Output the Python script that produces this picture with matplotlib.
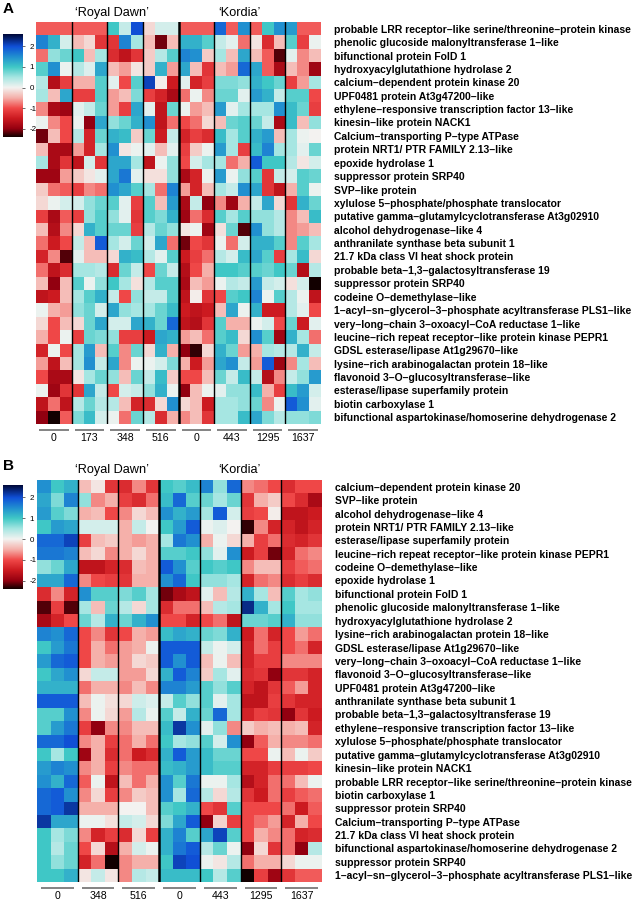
import numpy as np
import matplotlib
matplotlib.use("Agg")
import matplotlib.pyplot as plt
from matplotlib.colors import LinearSegmentedColormap, Normalize
from matplotlib.transforms import blended_transform_factory

plt.rcParams['font.family'] = ['Liberation Sans', 'DejaVu Sans']

# ---------------- data ----------------
genes_A = [
    "probable LRR receptor–like serine/threonine–protein kinase",
    "phenolic glucoside malonyltransferase 1–like",
    "bifunctional protein FolD 1",
    "hydroxyacylglutathione hydrolase 2",
    "calcium–dependent protein kinase 20",
    "UPF0481 protein At3g47200–like",
    "ethylene–responsive transcription factor 13–like",
    "kinesin–like protein NACK1",
    "Calcium–transporting P–type ATPase",
    "protein NRT1/ PTR FAMILY 2.13–like",
    "epoxide hydrolase 1",
    "suppressor protein SRP40",
    "SVP–like protein",
    "xylulose 5–phosphate/phosphate translocator",
    "putative gamma–glutamylcyclotransferase At3g02910",
    "alcohol dehydrogenase–like 4",
    "anthranilate synthase beta subunit 1",
    "21.7 kDa class VI heat shock protein",
    "probable beta–1,3–galactosyltransferase 19",
    "suppressor protein SRP40",
    "codeine O–demethylase–like",
    "1–acyl–sn–glycerol–3–phosphate acyltransferase PLS1–like",
    "very–long–chain 3–oxoacyl–CoA reductase 1–like",
    "leucine–rich repeat receptor–like protein kinase PEPR1",
    "GDSL esterase/lipase At1g29670–like",
    "lysine–rich arabinogalactan protein 18–like",
    "flavonoid 3–O–glucosyltransferase–like",
    "esterase/lipase superfamily protein",
    "biotin carboxylase 1",
    "bifunctional aspartokinase/homoserine dehydrogenase 2",
]
groups_A = ["0", "173", "348", "516", "0", "443", "1295", "1637"]

values_A = [
    [-0.9,-0.9,-0.9, -0.9,-0.9,-0.9, 1.0,0.3,2.0, -0.2,0.2,0.2, -0.9,-0.9,-0.9, 1.8,-0.9,1.5, -0.9,1.0,1.5, 1.4,-0.9,-0.9],
    [1.6,1.2,0.2, -0.4,-0.2,-1.2, -1.2,1.6,0.5, -0.4,-2.1,-0.4, 1.2,1.2,0.9, 0.3,0.1,-0.8, -0.1,-1.3,-0.4, 0.9,-1.1,0.05],
    [-0.8,0.6,0.8, 1.0,-0.4,0.5, -1.3,-1.6,-1.2, -0.3,0.4,0.9, 1.6,1.5,-0.3, 0.5,-0.4,1.3, -0.4,-0.9,-2.2, 0.1,-0.7,-0.4],
    [0.9,1.5,0.05, 0.4,0.15,1.3, -0.4,-0.6,-0.1, -0.3,1.2,-0.6, 1.3,-0.4,-1.2, -0.4,-0.6,1.8, 1.3,-0.9,-1.8, -0.4,-0.7,-1.9],
    [0.4,-1.7,-1.1, -0.5,-0.5,0.9, 0.1,-1.0,0.9, 2.1,-0.05,-1.5, 0.1,-1.4,-1.1, 0.7,0.7,0.6, 1.2,1.0,0.8, -1.1,-0.6,0.5],
    [0.5,-0.4,1.3, -1.1,-1.1,0.9, -0.6,-0.4,0.7, -1.1,-1.4,-1.8, -0.8,0.05,-0.7, 0.8,0.8,0.1, 1.4,1.2,0.3, 0.9,0.9,-1.0],
    [-0.7,-1.8,-1.9, 0.1,0.3,0.8, -0.6,-1.1,1.3, 0.1,-1.6,0.8, 0.05,-0.6,-0.4, 1.4,0.1,0.5, 0.5,0.5,1.5, 1.1,0.8,-1.1],
    [0.05,-0.7,-1.0, 0.05,-2.0,1.3, 0.6,0.8,1.2, 1.5,-1.6,-0.8, -1.0,-0.8,-0.2, -0.4,0.8,0.9, 0.8,0.3,-1.8, 1.1,-0.4,0.6],
    [-2.1,-0.4,-1.0, 0.4,-1.4,0.8, 1.2,1.1,-0.3, 0.8,-1.5,0.3, -1.4,-1.1,-1.3, 1.1,0.5,0.9, 1.2,1.4,-0.4, 0.5,0.05,0.0],
    [-0.4,-1.8,-1.8, -0.6,-1.4,0.5, 1.5,-0.1,0.05, 0.1,-0.4,0.1, -1.1,-0.3,0.05, 1.4,0.5,-1.1, 1.1,1.6,0.5, 0.5,0.1,0.8],
    [0.5,-1.8,-1.2, -1.6,0.2,-1.2, 1.3,1.3,0.5, -1.6,0.05,0.6, -1.0,0.2,0.5, 0.5,-0.8,-0.5, 1.9,1.0,1.0, 0.4,-0.1,0.2],
    [-1.9,-1.9,-0.6, -0.3,-0.1,0.1, 1.3,1.7,0.1, -0.15,-0.15,0.6, -1.8,-1.4,0.05, 1.4,0.05,0.6, 0.9,-1.2,0.3, 0.2,0.9,0.8],
    [-0.3,-0.8,-0.9, -1.1,-0.7,-0.8, 1.5,1.3,0.9, 0.5,-0.8,1.6, -0.6,-1.4,-0.4, 0.5,0.3,1.5, 1.3,-1.2,-1.6, -0.5,0.9,0.05],
    [-0.2,0.05,0.2, 0.2,0.6,0.8, 0.9,0.1,-1.1, 0.9,-0.4,1.4, -1.8,0.3,-2.0, -0.7,-1.9,-0.5, 0.3,1.3,-0.2, -1.2,1.2,0.8],
    [-1.1,-1.8,-0.9, -1.1,0.6,0.9, 0.6,0.1,-1.2, 0.9,0.7,1.2, -1.9,-0.8,-1.3, 0.9,0.5,0.9, 0.6,0.6,0.4, -0.7,-0.4,1.1],
    [-0.4,-1.7,-0.7, -0.2,1.2,0.9, 0.8,0.8,-1.1, 0.4,0.8,0.6, -0.1,0.05,-1.9, -0.15,0.8,-2.2, 1.5,0.6,0.4, -0.7,-0.6,-0.4],
    [-0.8,-1.5,-1.0, 0.3,-0.4,1.9, 0.5,0.2,0.8, 0.2,1.3,-0.8, -2.1,-1.0,-1.2, 0.05,-0.8,0.2, 1.2,1.2,0.9, -0.7,0.9,0.5],
    [-1.4,-0.7,-2.2, 0.1,-0.4,-0.4, -0.2,1.2,1.1, 0.4,0.1,0.9, -1.5,-1.1,-0.8, 0.4,0.2,1.1, 1.3,0.9,-1.1, 0.5,1.1,-0.2],
    [-0.8,-1.6,-1.3, 0.5,0.5,0.4, -1.3,0.8,0.3, -1.0,0.8,0.3, -1.7,-1.0,-0.5, 1.0,1.0,0.9, 0.9,0.8,1.0, 0.8,-1.7,0.4],
    [-0.4,-2.0,-0.4, 0.9,0.05,0.6, 1.0,0.5,-0.15, 0.4,0.9,0.9, -1.8,-0.4,-0.6, 0.05,0.4,0.3, 1.4,0.3,0.2, -0.15,0.2,-2.5],
    [-1.6,-1.5,-0.4, 0.5,0.9,1.2, 0.3,-1.0,0.6, 0.3,0.3,0.9, -1.6,-0.05,-1.2, -1.0,0.9,1.0, 1.6,0.05,0.9, 0.4,0.05,-1.6],
    [0.05,-0.5,-0.6, 0.6,0.8,0.2, 1.3,0.6,0.5, 0.5,0.8,1.1, -1.5,-1.6,-1.5, -0.4,1.3,0.05, 1.2,-1.5,-1.5, 0.4,0.1,-1.0],
    [-0.2,-1.0,-0.4, -0.2,0.8,1.3, 0.2,0.2,1.3, 1.2,0.8,1.8, -1.6,-1.7,-1.2, 0.9,-0.5,-0.5, 0.05,0.2,-1.0, 0.8,-1.5,0.1],
    [-0.5,-1.0,0.05, -1.1,0.8,0.7, 0.6,-1.1,-1.1, -1.5,1.3,1.2, -0.6,-0.4,-0.8, 0.9,1.1,-0.2, 1.5,0.9,-1.9, 1.2,0.5,-0.8],
    [-1.4,0.05,-1.0, 0.5,1.4,-0.4, 0.9,-0.7,0.8, -0.2,1.2,-0.5, -2.0,-2.3,-0.2, 1.2,0.8,-0.6, -0.5,0.5,0.4, 0.4,1.2,0.3],
    [-0.6,-1.6,-0.4, 0.5,1.5,0.3, 1.3,-0.7,0.05, 0.05,0.2,0.7, -0.5,-1.5,-0.6, 1.3,1.5,0.3, -0.6,1.9,-1.9, -0.7,0.5,-0.4],
    [-1.0,-1.8,-1.8, -0.1,0.5,0.8, 0.6,-0.4,0.8, 0.3,1.1,-0.3, -1.0,-1.0,-0.4, 0.8,0.3,1.1, 0.3,-1.7,-0.7, 0.3,0.6,1.4],
    [0.05,-1.9,-1.2, -1.2,1.3,0.3, -1.0,0.2,0.3, 0.6,1.2,0.05, -2.0,-0.4,0.05, 0.1,0.6,0.6, 1.1,-0.5,-1.1, 1.1,1.4,0.2],
    [-1.6,-0.8,-1.6, 0.4,0.8,0.4, 0.4,-0.4,-1.4, -1.3,-0.2,1.5, -0.2,-0.4,-1.5, 0.5,0.5,0.6, 0.8,-0.7,0.05, 1.9,1.5,0.1],
    [-2.0,-2.4,-0.9, 0.7,1.1,0.2, 0.05,-0.8,0.8, 0.4,-1.3,-0.5, -0.7,-0.4,-1.2, 0.5,0.5,1.1, 1.3,0.7,0.4, 0.6,0.6,0.7],
]

genes_B = [
    "calcium–dependent protein kinase 20",
    "SVP–like protein",
    "alcohol dehydrogenase–like 4",
    "protein NRT1/ PTR FAMILY 2.13–like",
    "esterase/lipase superfamily protein",
    "leucine–rich repeat receptor–like protein kinase PEPR1",
    "codeine O–demethylase–like",
    "epoxide hydrolase 1",
    "bifunctional protein FolD 1",
    "phenolic glucoside malonyltransferase 1–like",
    "hydroxyacylglutathione hydrolase 2",
    "lysine–rich arabinogalactan protein 18–like",
    "GDSL esterase/lipase At1g29670–like",
    "very–long–chain 3–oxoacyl–CoA reductase 1–like",
    "flavonoid 3–O–glucosyltransferase–like",
    "UPF0481 protein At3g47200–like",
    "anthranilate synthase beta subunit 1",
    "probable beta–1,3–galactosyltransferase 19",
    "ethylene–responsive transcription factor 13–like",
    "xylulose 5–phosphate/phosphate translocator",
    "putative gamma–glutamylcyclotransferase At3g02910",
    "kinesin–like protein NACK1",
    "probable LRR receptor–like serine/threonine–protein kinase",
    "biotin carboxylase 1",
    "suppressor protein SRP40",
    "Calcium–transporting P–type ATPase",
    "21.7 kDa class VI heat shock protein",
    "bifunctional aspartokinase/homoserine dehydrogenase 2",
    "suppressor protein SRP40",
    "1–acyl–sn–glycerol–3–phosphate acyltransferase PLS1–like",
]
groups_B = ["0", "348", "516", "0", "443", "1295", "1637"]

values_B = [
    [1.5,1.0,1.2, -0.4,-0.1,-1.2, -1.3,-0.7,-1.2, 1.0,0.9,1.1, 1.6,0.6,1.8, -0.7,-0.8,-1.0, -1.3,-1.0,-1.0],
    [1.3,0.7,1.6, 0.6,-0.7,-0.5, -1.1,-1.3,-0.8, 1.1,1.8,0.9, 0.8,0.5,0.8, -1.2,-0.5,-0.3, -1.0,-1.3,-1.8],
    [1.4,0.9,0.7, -0.5,-0.4,-1.0, -0.7,-0.2,-0.4, 1.5,1.2,1.4, 0.5,1.9,0.2, -1.1,-1.0,-0.05, -1.6,-1.6,-1.5],
    [1.0,1.4,1.3, 0.2,0.2,0.2, -0.5,0.3,0.0, 1.0,1.4,1.9, 0.05,0.15,0.0, -2.3,-0.7,-1.4, -1.4,-1.6,-1.4],
    [1.8,1.8,2.1, -1.1,-0.4,-0.3, -0.5,-0.6,-0.5, 0.5,1.7,1.5, -0.5,0.05,-0.2, -0.5,-1.1,-0.8, -1.3,-1.4,-1.2],
    [1.7,1.7,1.6, -0.4,-0.2,-0.7, -0.5,-0.2,-0.5, 0.9,0.9,1.0, 0.6,0.1,1.5, -1.5,-1.1,-2.1, -1.4,-0.8,-0.7],
    [0.6,0.8,1.3, -1.6,-1.6,-1.4, -1.3,-0.4,-0.5, 1.9,1.5,0.9, 1.0,0.9,1.0, -0.7,-0.4,-0.4, -1.1,-0.9,-0.8],
    [1.3,1.3,1.8, -0.7,-1.0,-1.1, -1.2,-0.5,-0.5, 1.5,1.8,1.0, 0.6,0.6,0.5, -1.4,-0.8,-0.7, -1.3,-1.1,-1.3],
    [-1.3,-0.7,-1.4, 1.5,0.9,0.9, 0.7,0.9,0.5, -2.1,-1.8,-1.6, 0.1,-0.4,0.4, 1.2,0.5,-0.4, 0.9,0.5,0.6],
    [-2.2,-1.1,-2.2, 0.5,-0.4,0.8, 0.4,-0.2,0.5, -1.3,-0.8,-0.8, -0.4,0.4,0.5, 2.3,1.2,0.5, 1.0,0.5,0.5],
    [-1.8,-1.4,-1.0, 0.8,0.4,1.2, 0.8,1.2,1.5, -1.0,-1.0,-1.4, -1.0,-0.8,-1.6, 0.8,0.8,0.9, 1.2,0.6,0.6],
    [1.6,1.5,1.8, -1.0,-0.7,-1.2, -1.0,-0.5,-0.6, 1.1,1.3,1.2, 0.8,0.7,1.2, -1.5,-0.8,-1.4, -1.0,-0.6,-0.8],
    [1.0,1.4,1.7, -1.0,-0.5,-0.8, -0.6,-0.5,0.05, 1.9,1.9,1.9, 0.3,0.05,0.2, -1.4,-0.8,-1.1, -1.0,-0.8,-1.4],
    [1.4,1.8,1.9, -1.0,-0.5,-0.6, -0.6,-0.2,-0.3, 1.9,1.5,1.9, -0.4,0.05,-0.4, -1.4,-1.1,-1.1, -0.7,-0.7,-0.7],
    [1.0,1.3,1.5, -0.2,0.3,0.3, -0.6,-0.6,-0.2, 1.2,1.9,1.6, -0.3,0.5,0.1, -1.3,-1.2,-2.0, -1.2,-1.2,-1.4],
    [1.2,1.2,1.2, -0.8,-0.5,-0.5, -0.7,-0.4,-0.7, 1.6,1.6,1.4, 0.9,0.6,0.9, -1.4,-1.6,-1.2, -0.9,-0.6,-1.4],
    [1.9,1.9,1.9, -0.4,0.05,-0.15, -0.2,0.25,0.15, 0.3,0.9,0.6, 0.9,0.1,0.5, -1.6,-1.6,-1.1, -1.2,-1.4,-1.4],
    [0.9,0.9,1.5, -0.7,0.05,-0.2, -0.6,0.4,0.05, 0.9,0.3,1.2, 0.8,1.8,0.5, -1.4,-1.1,-1.2, -2.0,-1.2,-1.5],
    [0.9,1.4,1.7, -1.1,-2.0,-0.7, -0.7,-0.4,-0.4, 1.1,2.2,1.5, 0.1,0.6,-0.7, -0.3,-0.5,-0.4, -0.5,-0.4,-1.4],
    [1.8,1.8,2.0, -0.7,-0.5,-1.1, -0.8,-0.5,-0.8, 1.0,0.5,0.6, 0.9,0.2,1.5, -2.0,-0.9,-0.5, -0.7,-0.7,-0.8],
    [1.0,0.5,1.0, -1.9,-0.5,-1.3, -0.8,-1.5,-1.3, 1.2,1.9,1.4, 1.1,0.8,0.8, -1.0,-1.0,0.05, -0.4,0.05,-0.3],
    [1.4,1.6,1.5, -0.7,-0.5,-1.1, -0.7,-0.8,-0.8, 1.1,1.2,1.4, 1.1,0.9,0.9, -1.4,-1.4,-1.1, -1.1,-1.1,-1.0],
    [1.5,1.2,1.8, -0.9,0.05,-1.6, -0.4,-0.8,-0.5, 1.5,0.9,1.7, 0.05,0.05,0.5, -1.7,-1.4,-0.8, -0.8,-0.4,0.05],
    [1.8,1.9,1.5, -0.7,-0.2,-1.1, -0.7,-0.3,-0.4, 1.5,0.5,1.8, 0.4,-0.2,0.4, -1.2,-1.5,-0.8, -1.1,-0.9,-0.8],
    [1.8,1.9,2.2, -0.5,-0.5,-0.5, 0.0,0.0,-0.4, 0.9,1.0,1.2, -1.0,-1.2,0.9, -1.0,-1.0,-1.0, -0.8,-1.5,-0.9],
    [2.2,1.3,1.3, 0.05,0.05,-0.15, 0.3,0.2,-0.2, 0.7,1.3,1.9, -2.0,-0.25,-1.1, -1.0,-0.8,-0.6, -1.4,-0.5,-1.0],
    [1.0,0.5,0.7, -0.7,-1.4,-1.1, -1.3,-0.2,-1.1, 1.2,1.6,0.9, 1.3,2.1,0.9, -1.0,-0.5,-0.7, -0.8,-1.4,-1.3],
    [1.0,0.4,0.8, -1.0,-0.2,-1.7, -0.5,0.2,0.05, 1.2,1.7,1.9, 0.4,0.8,0.05, -2.0,-0.2,-1.2, -0.8,-2.0,0.4],
    [1.0,0.6,0.8, -1.4,-0.8,-2.5, -0.7,-0.5,-0.5, 1.0,2.1,2.0, 0.05,-0.1,0.4, -0.8,-0.5,-0.5, -0.2,0.05,0.05],
    [1.0,1.0,1.2, -0.1,0.3,-0.1, -0.7,0.4,0.3, 1.1,1.1,1.1, 1.0,0.4,0.9, -2.5,-1.1,-1.9, -1.2,-0.9,-0.9],
]

# ---------------- colour map ----------------
VMIN, VMAX = -2.4, 2.6
nodes = [(-2.4, "#120000"), (-2.0, "#950010"), (-1.5, "#cc1a20"), (-1.0, "#f04848"),
         (-0.5, "#f5b0aa"), (0.0, "#f3f3f1"), (0.5, "#a6e6e2"), (1.0, "#40c8c6"),
         (1.5, "#2190d0"), (2.0, "#1050d8"), (2.6, "#000838")]
cmap = LinearSegmentedColormap.from_list(
    "rdbu_custom", [((v - VMIN) / (VMAX - VMIN), c) for v, c in nodes])
norm = Normalize(VMIN, VMAX)

W, H = 637, 901
fig = plt.figure(figsize=(W / 100, H / 100), dpi=100)


def px_axes(x0, y0, x1, y1):
    return fig.add_axes([x0 / W, 1 - y1 / H, (x1 - x0) / W, (y1 - y0) / H])


def panel(letter, genes, groups, values, hm_box, cb_box, title_y, seg_y, lab_y,
          rd_x, ko_x, n_rd_groups, seg_margin):
    data = np.array(values, dtype=float)
    nrow, ncol = data.shape
    ax = px_axes(*hm_box)
    ax.pcolormesh(np.arange(ncol + 1), np.arange(nrow + 1), data, cmap=cmap, norm=norm,
                  edgecolors="none", antialiased=False)
    ax.set_xlim(0, ncol)
    ax.set_ylim(nrow, 0)
    for s in ax.spines.values():
        s.set_visible(False)
    ax.set_xticks([])
    ax.yaxis.tick_right()
    ax.set_yticks(np.arange(nrow) + 0.5)
    ax.set_yticklabels(genes, fontsize=7.5, fontweight="bold")
    ax.tick_params(axis="y", length=0, pad=9.5)
    # group separators
    ng = len(groups)
    for g in range(1, ng):
        lw = 1.8 if g == n_rd_groups else 1.0
        ax.axvline(3 * g, color="black", lw=lw)
    # group labels with grey bars
    fig_y = lambda py: 1 - py / H
    trans = blended_transform_factory(ax.transData, fig.transFigure)
    cell_px = (hm_box[2] - hm_box[0]) / ncol
    m = seg_margin / cell_px
    for g, lab in enumerate(groups):
        x0, x1 = 3 * g + m, 3 * (g + 1) - m
        ax.plot([x0, x1], [fig_y(seg_y)] * 2, transform=trans, color="#7a7a7a", lw=1.3,
                clip_on=False, solid_capstyle="butt")
        ax.text(3 * g + 1.5, fig_y(lab_y), lab, transform=trans, ha="center", va="center",
                fontsize=7.6)
    # cultivar titles
    fig.text(rd_x / W, fig_y(title_y), "‘Royal Dawn’", ha="center", va="center", fontsize=9.2)
    fig.text(ko_x / W, fig_y(title_y), "‘Kordia’", ha="center", va="center", fontsize=9.2)
    fig.text(3 / W, fig_y(title_y - 4), letter, ha="left", va="center", fontsize=11,
             fontweight="bold")
    # colour bar
    cax = px_axes(*cb_box)
    grad = np.linspace(VMIN, VMAX, 256).reshape(-1, 1)
    cax.imshow(grad, aspect="auto", cmap=cmap, norm=norm, origin="lower",
               extent=[0, 1, VMIN, VMAX])
    cax.set_xticks([])
    cax.yaxis.tick_right()
    cax.set_yticks([-2, -1, 0, 1, 2])
    cax.set_yticklabels(["-2", "-1", "0", "1", "2"], fontsize=5.8)
    cax.tick_params(axis="y", length=2.5, width=0.6, pad=3, color="#555555")
    for s in cax.spines.values():
        s.set_visible(False)


panel("A", genes_A, groups_A, values_A, (36, 22, 321, 424), (3, 34, 22, 137),
      title_y=13, seg_y=430, lab_y=438, rd_x=112, ko_x=239, n_rd_groups=4, seg_margin=3)
panel("B", genes_B, groups_B, values_B, (37, 480, 322, 882), (3, 485, 22, 589),
      title_y=470, seg_y=888, lab_y=896, rd_x=112, ko_x=239, n_rd_groups=3, seg_margin=4)

fig.savefig("out.png", dpi=100)
